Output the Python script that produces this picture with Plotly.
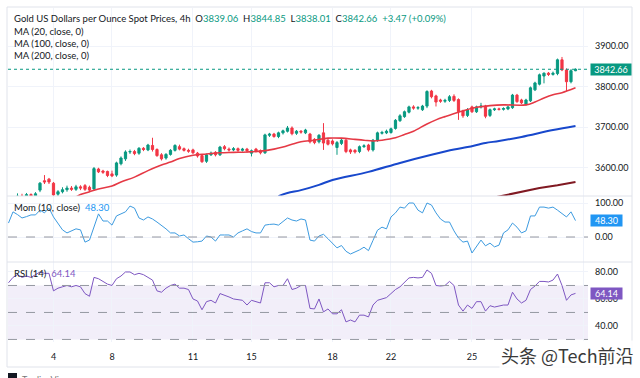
import plotly.graph_objects as go

W, H = 640, 378
ML, MR, MT, MB = 8, 52, 8, 36
PW = W - ML - MR
PH = H - MT - MB


def fx(px):
    return (px - ML) / PW


def fy(py):
    return (H - MB - py) / PH


# ---------------- data ----------------
opens = [3515, 3522, 3518, 3530, 3527, 3534, 3531, 3545, 3568, 3572,
         3562, 3535, 3541, 3546, 3550, 3547, 3553, 3556, 3552, 3548,
         3597, 3592, 3591, 3585, 3582, 3610, 3622, 3639, 3640, 3636,
         3648, 3644, 3655, 3645, 3632, 3624, 3633, 3643, 3652, 3647,
         3643, 3644, 3636, 3630, 3616, 3632, 3638, 3632, 3652, 3646,
         3644, 3647, 3643, 3646, 3636, 3646, 3642, 3637, 3680, 3683,
         3677, 3686, 3690, 3698, 3685, 3690, 3686, 3683, 3670, 3664,
         3686, 3668, 3666, 3650, 3660, 3668, 3644, 3643, 3640, 3652,
         3656, 3644, 3667, 3685, 3686, 3687, 3697, 3716, 3726, 3737,
         3750, 3747, 3743, 3752, 3789, 3777, 3767, 3764, 3766, 3776,
         3768, 3740, 3729, 3750, 3738, 3750, 3752, 3729, 3743, 3745,
         3744, 3745, 3748, 3779, 3767, 3756, 3765, 3792, 3806, 3826,
         3833, 3830, 3832, 3866, 3841, 3812, 3839.06]
highs = [3528, 3530, 3537, 3536, 3538, 3537, 3540, 3565, 3582, 3575,
         3565, 3545, 3552, 3556, 3555, 3558, 3557, 3560, 3556, 3602,
         3600, 3595, 3593, 3593, 3615, 3628, 3643, 3645, 3644, 3651,
         3651, 3659, 3674, 3648, 3636, 3636, 3646, 3658, 3657, 3650,
         3647, 3647, 3639, 3632, 3635, 3640, 3641, 3654, 3656, 3650,
         3651, 3650, 3649, 3649, 3645, 3649, 3645, 3684, 3686, 3686,
         3689, 3694, 3703, 3702, 3693, 3693, 3696, 3686, 3673, 3683,
         3710, 3672, 3670, 3666, 3671, 3672, 3647, 3646, 3655, 3658,
         3659, 3671, 3689, 3691, 3694, 3699, 3720, 3732, 3741, 3753,
         3754, 3752, 3755, 3791, 3792, 3780, 3770, 3770, 3779, 3781,
         3771, 3743, 3747, 3753, 3753, 3760, 3755, 3746, 3748, 3748,
         3749, 3753, 3782, 3782, 3770, 3770, 3800, 3812, 3832, 3835,
         3836, 3837, 3869, 3873, 3845, 3843, 3844.85]
lows = [3510, 3512, 3515, 3520, 3522, 3525, 3528, 3540, 3560, 3560,
        3525, 3528, 3537, 3541, 3543, 3543, 3545, 3543, 3540, 3543,
        3587, 3585, 3577, 3577, 3578, 3606, 3617, 3634, 3631, 3632,
        3641, 3641, 3640, 3627, 3618, 3620, 3630, 3640, 3643, 3640,
        3637, 3634, 3625, 3612, 3612, 3629, 3628, 3629, 3643, 3640,
        3641, 3639, 3640, 3637, 3628, 3638, 3633, 3634, 3676, 3674,
        3673, 3682, 3687, 3680, 3681, 3684, 3683, 3660, 3658, 3660,
        3644, 3655, 3655, 3632, 3656, 3636, 3634, 3635, 3636, 3649,
        3640, 3640, 3664, 3682, 3683, 3684, 3694, 3713, 3723, 3734,
        3743, 3743, 3740, 3747, 3771, 3751, 3760, 3760, 3762, 3762,
        3718, 3723, 3725, 3735, 3735, 3746, 3722, 3725, 3740, 3741,
        3741, 3742, 3745, 3760, 3757, 3753, 3762, 3789, 3803, 3808,
        3826, 3827, 3828, 3838, 3789, 3808, 3838.01]
closes = [3522, 3518, 3530, 3527, 3534, 3531, 3536, 3562, 3565, 3565,
          3533, 3541, 3546, 3550, 3547, 3553, 3550, 3547, 3545, 3598,
          3590, 3589, 3581, 3580, 3612, 3624, 3639, 3640, 3635, 3648,
          3645, 3656, 3645, 3630, 3622, 3633, 3643, 3655, 3646, 3643,
          3641, 3637, 3629, 3615, 3632, 3636, 3632, 3651, 3647, 3644,
          3647, 3643, 3646, 3642, 3642, 3641, 3637, 3681, 3683, 3677,
          3686, 3691, 3698, 3684, 3690, 3688, 3693, 3664, 3662, 3680,
          3661, 3658, 3659, 3662, 3668, 3640, 3639, 3639, 3652, 3654,
          3644, 3668, 3686, 3687, 3690, 3696, 3717, 3728, 3738, 3750,
          3747, 3748, 3752, 3788, 3775, 3762, 3764, 3766, 3775, 3766,
          3738, 3728, 3743, 3738, 3750, 3752, 3727, 3743, 3745, 3744,
          3746, 3750, 3779, 3763, 3760, 3767, 3797, 3809, 3829, 3833,
          3830, 3833, 3866, 3841, 3812, 3839.19, 3842.66]
candle_idx = list(range(len(opens)))

ma20_idx = [15, 16, 18, 20, 23, 25, 28, 31, 34, 36, 38, 41, 44, 47, 50, 53, 56, 59,
            61, 63, 65, 68, 71, 74, 77, 79, 81, 83, 86, 88, 90, 93, 95, 97, 100,
            104, 107, 110, 115, 117, 119, 121, 123, 126]
ma20_val = [3528, 3534, 3541, 3548, 3555, 3565, 3577, 3593, 3607, 3614, 3623, 3631,
            3634, 3637, 3638, 3639, 3641, 3646, 3651, 3658, 3664, 3668, 3673, 3673,
            3670, 3668, 3666, 3668, 3674, 3682, 3690, 3708, 3718, 3726, 3737, 3749,
            3753, 3755, 3755, 3762, 3772, 3780, 3785, 3797]

ma100_idx = [60, 62, 65, 69, 72, 80, 87, 94, 99, 102, 106, 109, 114, 121, 126]
ma100_val = [3530, 3538, 3545, 3558, 3570, 3590, 3612, 3632, 3645, 3651, 3661,
             3666, 3676, 3693, 3703]

ma200_idx = [108, 113, 118, 122, 126]
ma200_val = [3527, 3539, 3550, 3557, 3565]

mom_idx = list(range(127))
mom_val = [41, 74, 66, 56, 60, 65, 65, 79, 71, 85,
           59, 38, 21, 12, 18, 24, 21, -15, -9, 30,
           68, 47, 47, 35, 62, 68, 74, 91, 85, 56,
           50, 59, 53, 44, 35, 24, 12, 12, 3, 6,
           -5, -15, -14, -12, 3, 0, -12, 6, 6, 6,
           0, 12, 18, 24, 16, 12, 12, 35, 37, 38,
           35, 46, 56, 50, 47, 53, 50, -9, -12, 3,
           8, -5, -20, -32, -25, -42, -50, -45, -38, -30,
           -40, -10, 20, 29, 24, 59, 71, 88, 85, 100,
           100, 79, 71, 100, 94, 71, 53, 44, 44, 18,
           -3, -15, -12, -47, -29, -9, -26, -18, -29, -24,
           12, 21, 41, 29, 12, 18, 62, 62, 88, 88,
           85, 88, 79, 70, 59, 74, 48.30]

rsi_idx = list(range(127))
rsi_val = [72, 76, 78, 76, 77, 76, 78, 80, 79, 79,
           66, 68, 69, 70, 69, 70, 69, 64, 62, 76,
           75, 73, 71, 70, 75, 77, 80, 80, 78, 79,
           78, 76, 74, 66, 65, 68, 70, 71, 68, 68,
           67, 60, 58.5, 52, 58, 59, 57, 64, 63, 61.5,
           60, 59.5, 59, 55.5, 59, 58, 57, 72, 72, 69,
           70, 70, 75, 67, 68, 70, 70, 53, 52.6, 60,
           50.4, 52.6, 49, 49, 52, 43, 44.4, 43, 48, 48,
           46.7, 55.5, 59, 60, 61, 64, 67, 69, 72, 75.6,
           76, 75.6, 76, 81.5, 79, 70, 69.6, 70, 73, 70,
           55.5, 51, 55.5, 53, 58, 58, 51, 55, 54, 55,
           55.5, 55.5, 65, 60, 57, 59, 67, 69.6, 73, 73,
           72.6, 74, 78.5, 70, 59, 63, 64.14]

tick_idx = [10, 23, 41, 54, 72, 85, 103, 127.7]
tick_txt = ["4", "8", "11", "15", "18", "22", "25", ""]

price_ticks = [3600, 3700, 3800, 3900]
mom_ticks = [0, 100]
rsi_ticks = [40, 60, 80]

last_price = closes[-1]
last_mom = mom_val[-1]
last_rsi = rsi_val[-1]

# ---------------- styles ----------------
UP = "#089981"
DN = "#F23645"
GRID = "#F0F3FA"
TXT = "#131722"
FONT = "Lato, 'Noto Sans', sans-serif"

fig = go.Figure()

fig.add_trace(go.Candlestick(
    x=candle_idx, open=opens, high=highs, low=lows, close=closes,
    increasing=dict(line=dict(color=UP, width=1), fillcolor=UP),
    decreasing=dict(line=dict(color=DN, width=1), fillcolor=DN),
    whiskerwidth=0, xaxis="x", yaxis="y", showlegend=False, hoverinfo="skip"))

fig.add_trace(go.Scatter(x=ma200_idx, y=ma200_val, mode="lines",
                         line=dict(color="#801922", width=2), xaxis="x", yaxis="y",
                         showlegend=False, hoverinfo="skip"))
fig.add_trace(go.Scatter(x=ma100_idx, y=ma100_val, mode="lines",
                         line=dict(color="#1848CC", width=2, shape="spline"), xaxis="x", yaxis="y",
                         showlegend=False, hoverinfo="skip"))
fig.add_trace(go.Scatter(x=ma20_idx, y=ma20_val, mode="lines",
                         line=dict(color="#E53945", width=1.6, shape="spline"), xaxis="x", yaxis="y",
                         showlegend=False, hoverinfo="skip"))

fig.add_trace(go.Scatter(x=mom_idx, y=mom_val, mode="lines",
                         line=dict(color="#3D9BE0", width=1), xaxis="x", yaxis="y2",
                         showlegend=False, hoverinfo="skip"))
fig.add_trace(go.Scatter(x=rsi_idx, y=rsi_val, mode="lines",
                         line=dict(color="#7E57C2", width=1), xaxis="x", yaxis="y3",
                         showlegend=False, hoverinfo="skip"))

d_price = [fy(196), 1.0]
d_mom = [fy(262), fy(196)]
d_rsi = [0.0, fy(262)]

axis_common = dict(showline=False, zeroline=False, ticks="", side="right",
                   gridcolor=GRID, gridwidth=1,
                   tickfont=dict(family=FONT, size=9, color=TXT), ticklabelstandoff=6)

fig.update_layout(
    width=W, height=H,
    margin=dict(l=ML, r=MR, t=MT, b=MB),
    paper_bgcolor="white", plot_bgcolor="white",
    xaxis=dict(domain=[0, 1], anchor="y3", range=[-0.11, 128.78],
               tickvals=tick_idx, ticktext=tick_txt, showgrid=True, gridcolor=GRID,
               zeroline=False, showline=False, ticks="",
               tickfont=dict(family=FONT, size=9, color=TXT),
               ticklabelstandoff=8,
               rangeslider=dict(visible=False)),
    yaxis=dict(domain=d_price, anchor="x", range=[3530.5, 3993.6],
               tickvals=price_ticks, ticktext=[f"{v:.2f}" for v in price_ticks],
               **axis_common),
    yaxis2=dict(domain=d_mom, anchor="x", range=[-73.5, 120.6],
                tickvals=mom_ticks, ticktext=[f"{v:.2f}" for v in mom_ticks],
                **axis_common),
    yaxis3=dict(domain=d_rsi, anchor="x", range=[28.1, 87.4],
                tickvals=rsi_ticks, ticktext=[f"{v:.2f}" for v in rsi_ticks],
                **axis_common),
    font=dict(family=FONT, color=TXT),
)

shapes = []
shapes.append(dict(type="rect", xref="paper", yref="y3", x0=0, x1=1, y0=30, y1=70,
                   fillcolor="rgba(126,87,194,0.10)", line=dict(width=0), layer="below"))
for lv in (70, 50, 30):
    shapes.append(dict(type="line", xref="paper", yref="y3", x0=0, x1=1, y0=lv, y1=lv,
                       line=dict(color="#9598A1", width=1, dash="dash")))
shapes.append(dict(type="line", xref="paper", yref="y2", x0=0, x1=1, y0=0, y1=0,
                   line=dict(color="#9598A1", width=1, dash="dash")))
shapes.append(dict(type="line", xref="paper", yref="y", x0=0, x1=1, y0=last_price, y1=last_price,
                   line=dict(color=UP, width=1, dash="dot")))
for py in (196, 262):
    shapes.append(dict(type="line", xref="paper", yref="paper", x0=fx(7), x1=fx(632),
                       y0=fy(py), y1=fy(py), line=dict(color="#E0E3EB", width=1)))
shapes.append(dict(type="rect", xref="paper", yref="paper", x0=fx(7), x1=fx(632),
                   y0=fy(367), y1=fy(7), line=dict(color="#E0E3EB", width=1)))
shapes.append(dict(type="rect", xref="paper", yref="paper", x0=fx(8), x1=fx(17),
                   y0=fy(378), y1=fy(373), fillcolor="#131722", line=dict(width=0)))
fig.update_layout(shapes=shapes)

G = UP
SP = "&nbsp; "
ann = []
hdr = (f"Gold US Dollars per Ounce Spot Prices, 4h{SP}"
       f"O<span style='color:{G}'>{opens[-1]:.2f}</span>{SP}"
       f"H<span style='color:{G}'>{highs[-1]:.2f}</span>{SP}"
       f"L<span style='color:{G}'>{lows[-1]:.2f}</span>{SP}"
       f"C<span style='color:{G}'>{closes[-1]:.2f}{SP}"
       f"{closes[-1]-closes[-2]:+.2f} ({(closes[-1]-closes[-2])/closes[-2]*100:+.2f}%)</span>")
lines = [(hdr, 18), ("MA (20, close, 0)", 31), ("MA (100, close, 0)", 43), ("MA (200, close, 0)", 55),
         (f"Mom (10, close){SP}<span style='color:#2196F3'>{last_mom:.2f}</span>", 207),
         (f"RSI (14){SP}<span style='color:#7E57C2'>{last_rsi:.2f}</span>", 273)]
for txt, py in lines:
    ann.append(dict(text=txt, xref="paper", yref="paper", x=fx(12), y=fy(py),
                    xanchor="left", yanchor="middle", showarrow=False,
                    font=dict(family=FONT, size=9.5, color=TXT)))

for val, yr, col, wid in ((last_price, "y", UP, 40), (last_mom, "y2", "#2196F3", 31),
                          (last_rsi, "y3", "#7E57C2", 31)):
    ann.append(dict(text=f"{val:.2f}", xref="paper", yref=yr, x=fx(589.5), y=val,
                    xanchor="left", yanchor="middle", showarrow=False, bgcolor=col,
                    width=wid, height=11, borderpad=0,
                    font=dict(family=FONT, size=9, color="white")))

ann.append(dict(text="头条 @Tech前沿", xref="paper", yref="paper", x=fx(636), y=fy(355),
                xanchor="right", yanchor="middle", showarrow=False,
                bgcolor="rgba(255,255,255,0.85)",
                font=dict(family="Noto Sans CJK SC", size=18, color="#3a3a3a")))
ann.append(dict(text="TradingView", xref="paper", yref="paper", x=fx(20), y=fy(380),
                xanchor="left", yanchor="middle", showarrow=False,
                font=dict(family=FONT, size=9, color="#777")))
fig.update_layout(annotations=ann)

fig.write_html("out.html", config={"displayModeBar": False},
               post_script="document.body.style.margin='0';")
